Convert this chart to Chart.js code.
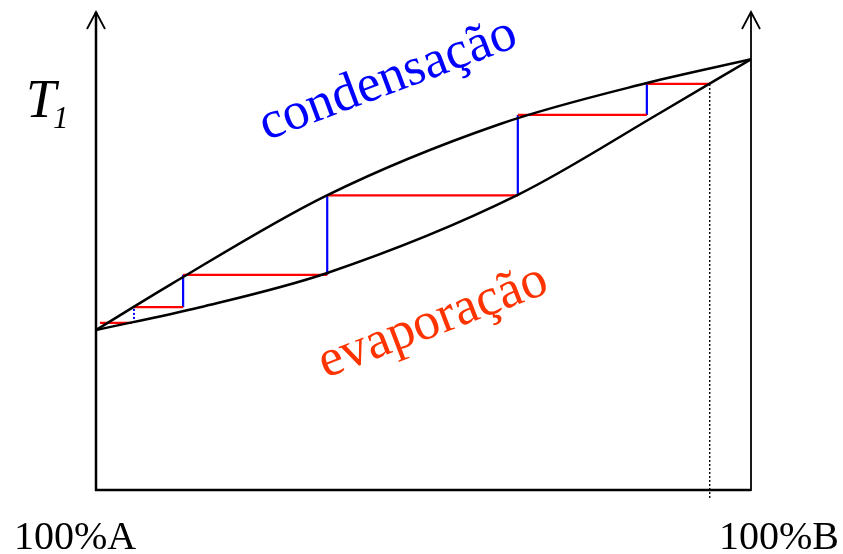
<!DOCTYPE html>
<html>
<head>
<meta charset="utf-8">
<script src="https://cdn.jsdelivr.net/npm/chart.js@4"></script>
<style>
  html, body { margin: 0; padding: 0; background: #fff; }
  #wrap { width: 843px; height: 554px; }
</style>
</head>
<body>
<div id="wrap"><canvas id="c" width="843" height="554"></canvas></div>
<script>
// Composition (% B) and temperature (arbitrary units)
const condX = [0, 11.3, 35.1, 61.7, 84.1, 100];
const condT = [33.6, 43.1, 61.8, 76.9, 85.5, 90.5];
const evapX = [0, 15.9, 35.3, 64.4, 86.1, 100];
const evapT = [33.6, 38.4, 45.6, 62.0, 79.2, 90.5];

// Staircase: horizontal (red) steps and vertical (blue) steps
const redT  = [35.1, 38.4, 45.2, 61.9, 78.8, 85.3];
const redX0 = [0.6, 5.8, 13.3, 35.3, 64.4, 84.1];
const redX1 = [5.5, 13.3, 35.3, 64.4, 84.1, 93.7];
const blueX  = [5.8, 13.3, 35.3, 64.4, 84.1];
const blueT0 = [35.1, 38.4, 45.2, 61.9, 78.8];
const blueT1 = [38.4, 45.2, 61.9, 78.8, 85.3];

// Final composition drop line
const dropX = [93.7, 93.7];
const dropT = [85.3, -2.1];

// Labels
const yLabel = 'T';
const ySub = '1';
const xLabels = ['100%A', '100%B'];
const upperLabel = 'condensação';
const lowerLabel = 'evaporação';

const pts = (xs, ys) => xs.map((x, i) => ({x: x, y: ys[i]}));

const redData = [];
redT.forEach((t, i) => { redData.push({x: redX0[i], y: t}, {x: redX1[i], y: t}, {x: redX1[i], y: null}); });
const blueData = [];
blueX.forEach((x, i) => { if (i === 0) return; blueData.push({x: x, y: blueT0[i]}, {x: x, y: blueT1[i]}, {x: x, y: null}); });
const blueDotted = [{x: blueX[0], y: blueT0[0]}, {x: blueX[0], y: blueT1[0]}];

const decor = {
  id: 'decor',
  afterDatasetsDraw(chart) {
    const ctx = chart.ctx;
    const xs = chart.scales.x, ys = chart.scales.y;
    const x0 = xs.getPixelForValue(0), x1 = xs.getPixelForValue(100);
    const yb = ys.getPixelForValue(0);
    const tip = chart.chartArea.top - 2;
    ctx.save();
    ctx.strokeStyle = '#000';
    ctx.lineCap = 'butt';
    // left axis
    ctx.lineWidth = 2.5;
    ctx.beginPath(); ctx.moveTo(x0, yb + 1); ctx.lineTo(x0, tip); ctx.stroke();
    // bottom axis
    ctx.beginPath(); ctx.moveTo(x0 - 1, yb); ctx.lineTo(x1, yb); ctx.stroke();
    // right axis
    ctx.lineWidth = 1.8;
    ctx.beginPath(); ctx.moveTo(x1, yb + 1); ctx.lineTo(x1, tip); ctx.stroke();
    // arrow heads
    const arrow = (x) => {
      ctx.lineWidth = 1.8;
      ctx.beginPath();
      ctx.moveTo(x - 9, tip + 17); ctx.lineTo(x, tip); ctx.lineTo(x + 9, tip + 17);
      ctx.stroke();
    };
    arrow(x0); arrow(x1);

    // texts
    ctx.fillStyle = '#000';
    ctx.textBaseline = 'alphabetic';
    ctx.textAlign = 'left';
    ctx.font = 'italic 54px "Liberation Serif"';
    ctx.fillText(yLabel, 26, 117);
    ctx.font = 'italic 31px "Liberation Serif"';
    ctx.fillText(ySub, 53, 128);

    ctx.font = '40px "Liberation Serif"';
    ctx.fillText(xLabels[0], 14, 549);
    ctx.fillText(xLabels[1], 719, 549);

    ctx.font = '53px "Liberation Serif"';
    ctx.textAlign = 'center';
    ctx.fillStyle = '#0000FF';
    ctx.save(); ctx.translate(393, 93); ctx.rotate(-20.5 * Math.PI / 180);
    ctx.fillText(upperLabel, 0, 0); ctx.restore();
    ctx.fillStyle = '#FF3300';
    ctx.save(); ctx.translate(438, 335); ctx.rotate(-21 * Math.PI / 180);
    ctx.fillText(lowerLabel, 0, 0); ctx.restore();
    ctx.restore();
  }
};

new Chart(document.getElementById('c'), {
  type: 'line',
  data: {
    datasets: [
      { data: pts(condX, condT), borderColor: '#000', borderWidth: 2.5, cubicInterpolationMode: 'monotone', pointRadius: 0, fill: false },
      { data: pts(evapX, evapT), borderColor: '#000', borderWidth: 2.5, cubicInterpolationMode: 'monotone', pointRadius: 0, fill: false },
      { data: redData, borderColor: '#FF0000', borderWidth: 2.2, pointRadius: 0, spanGaps: false, tension: 0 },
      { data: blueData, borderColor: '#0000FF', borderWidth: 2.2, pointRadius: 0, spanGaps: false, tension: 0 },
      { data: blueDotted, borderColor: '#0000FF', borderWidth: 2, borderDash: [2, 2], pointRadius: 0, tension: 0 },
      { data: pts(dropX, dropT), borderColor: '#000', borderWidth: 1.4, borderDash: [2, 2], pointRadius: 0, tension: 0, clip: false }
    ]
  },
  options: {
    responsive: false,
    animation: false,
    layout: { padding: { left: 96, right: 92, top: 14, bottom: 64 } },
    plugins: { legend: { display: false }, tooltip: { enabled: false } },
    scales: {
      x: { type: 'linear', min: 0, max: 100, display: false },
      y: { type: 'linear', min: 0, max: 100, display: false }
    }
  },
  plugins: [decor]
});
</script>
</body>
</html>
